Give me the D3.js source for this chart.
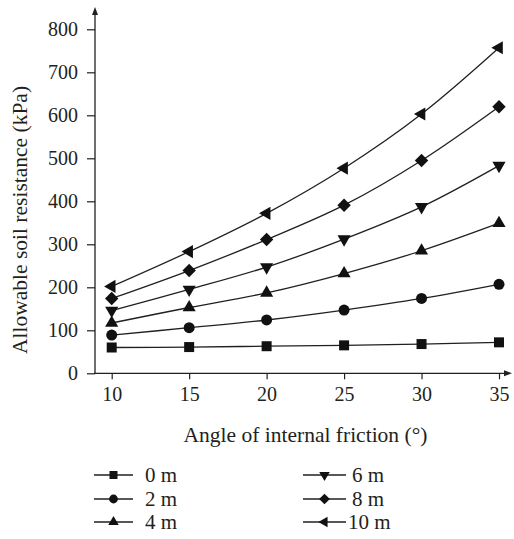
<!DOCTYPE html>
<html><head><meta charset="utf-8">
<script src="https://cdn.jsdelivr.net/npm/d3@7"></script>
<style>
html,body{margin:0;padding:0;background:#fff;}
svg text{font-family:"Liberation Serif","Times New Roman",serif;fill:#231f20;}
</style></head>
<body><svg id="c" width="514" height="539"></svg>
<script>
const angles = [10, 15, 20, 25, 30, 35];
const seriesNames = ["0 m", "2 m", "4 m", "6 m", "8 m", "10 m"];
const v0 = [60, 61, 63, 65, 68, 72];
const v2 = [89, 106, 124, 147, 174, 207];
const v4 = [117, 153, 187, 232, 285, 349];
const v6 = [146, 195, 247, 312, 387, 483];
const v8 = [174, 239, 311, 391, 495, 620];
const v10 = [202, 283, 372, 477, 603, 757];
const yTicks = [0, 100, 200, 300, 400, 500, 600, 700, 800];
const xTicks = [10, 15, 20, 25, 30, 35];
const markers = ["square", "circle", "up", "down", "diamond", "left"];

const series = [v0, v2, v4, v6, v8, v10].map((vals, i) => ({
  name: seriesNames[i], marker: markers[i],
  pts: angles.map((a, j) => ({x: a, y: vals[j]}))
}));

const svg = d3.select("#c");
const ink = "#231f20";
const serif = "Liberation Serif, Times New Roman, serif";
const x = d3.scaleLinear().domain([10, 35]).range([111.7, 499]);
const y = d3.scaleLinear().domain([0, 800]).range([373.3, 29.3]);

const axisX0 = 94, axisX1 = 512, axisY0 = 373.3, axisY1 = 7;
svg.append("line").attr("x1", axisX0).attr("x2", axisX1 - 4).attr("y1", axisY0).attr("y2", axisY0)
  .attr("stroke", ink).attr("stroke-width", 1.3);
svg.append("path").attr("d", `M${axisX1},${axisY0} L${axisX1-8},${axisY0-3} L${axisX1-8},${axisY0+3} Z`).attr("fill", ink);
svg.append("line").attr("x1", 95).attr("x2", 95).attr("y1", axisY0).attr("y2", axisY1 + 4)
  .attr("stroke", ink).attr("stroke-width", 1.3);
svg.append("path").attr("d", `M95,${axisY1} L92,${axisY1+8} L98,${axisY1+8} Z`).attr("fill", ink);

const yAx = svg.append("g").attr("transform", "translate(95,0)")
  .call(d3.axisLeft(y).tickValues(yTicks).tickSize(8).tickPadding(9))
  .attr("font-family", serif).attr("font-size", 20);
yAx.select(".domain").remove();
yAx.selectAll("line").attr("stroke", ink).attr("stroke-width", 1.2);
yAx.selectAll("text").attr("fill", ink);

const xAx = svg.append("g").attr("transform", `translate(0,${axisY0})`)
  .call(d3.axisBottom(x).tickValues(xTicks).tickSize(6).tickPadding(8))
  .attr("font-family", serif).attr("font-size", 20);
xAx.select(".domain").remove();
xAx.selectAll("line").attr("stroke", ink).attr("stroke-width", 1.2);
xAx.selectAll("text").attr("fill", ink);

svg.append("text").attr("x", 305.5).attr("y", 442).attr("text-anchor", "middle")
  .attr("font-size", 21.5).text("Angle of internal friction (°)");
svg.append("text").attr("transform", "translate(27,220) rotate(-90)").attr("text-anchor", "middle")
  .attr("font-size", 21.5).text("Allowable soil resistance (kPa)");

function symbolPath(m) {
  const s = {
    square: d3.symbol(d3.symbolSquare, 100),
    circle: d3.symbol(d3.symbolCircle, 95),
    up: d3.symbol(d3.symbolTriangle, 75),
    down: d3.symbol(d3.symbolTriangle, 75),
    left: d3.symbol(d3.symbolTriangle, 75),
    diamond: d3.symbol(d3.symbolSquare, 90)
  }[m];
  return s();
}
function symbolRot(m) {
  return {square: 0, circle: 0, up: 0, down: 180, left: -90, diamond: 45}[m];
}

const line = d3.line().x(d => x(d.x)).y(d => y(d.y)).curve(d3.curveCatmullRom.alpha(0.5));
const g = svg.append("g");
series.forEach(s => {
  g.append("path").attr("d", line(s.pts)).attr("fill", "none").attr("stroke", ink).attr("stroke-width", 1.3);
  g.selectAll(null).data(s.pts).enter().append("path")
    .attr("d", symbolPath(s.marker))
    .attr("transform", d => `translate(${x(d.x)},${y(d.y)}) rotate(${symbolRot(s.marker)})`)
    .attr("fill", "#111");
});

const legRows = [475, 499, 522];
series.forEach((s, i) => {
  const col = Math.floor(i / 3), row = i % 3;
  const lx0 = col === 0 ? 94 : 303, lx1 = col === 0 ? 133 : 346;
  const ly = legRows[row];
  const lg = svg.append("g");
  lg.append("line").attr("x1", lx0).attr("x2", lx1).attr("y1", ly).attr("y2", ly).attr("stroke", ink).attr("stroke-width", 1.3);
  lg.append("path").attr("d", symbolPath(s.marker))
    .attr("transform", `translate(${(lx0+lx1)/2},${ly}) rotate(${symbolRot(s.marker)}) scale(0.8)`).attr("fill", "#111");
  lg.append("text").attr("x", col === 0 ? 145 : (s.name === "10 m" ? 348 : 352)).attr("y", ly + 7)
    .attr("font-size", 21).text(s.name);
});
</script></body></html>
